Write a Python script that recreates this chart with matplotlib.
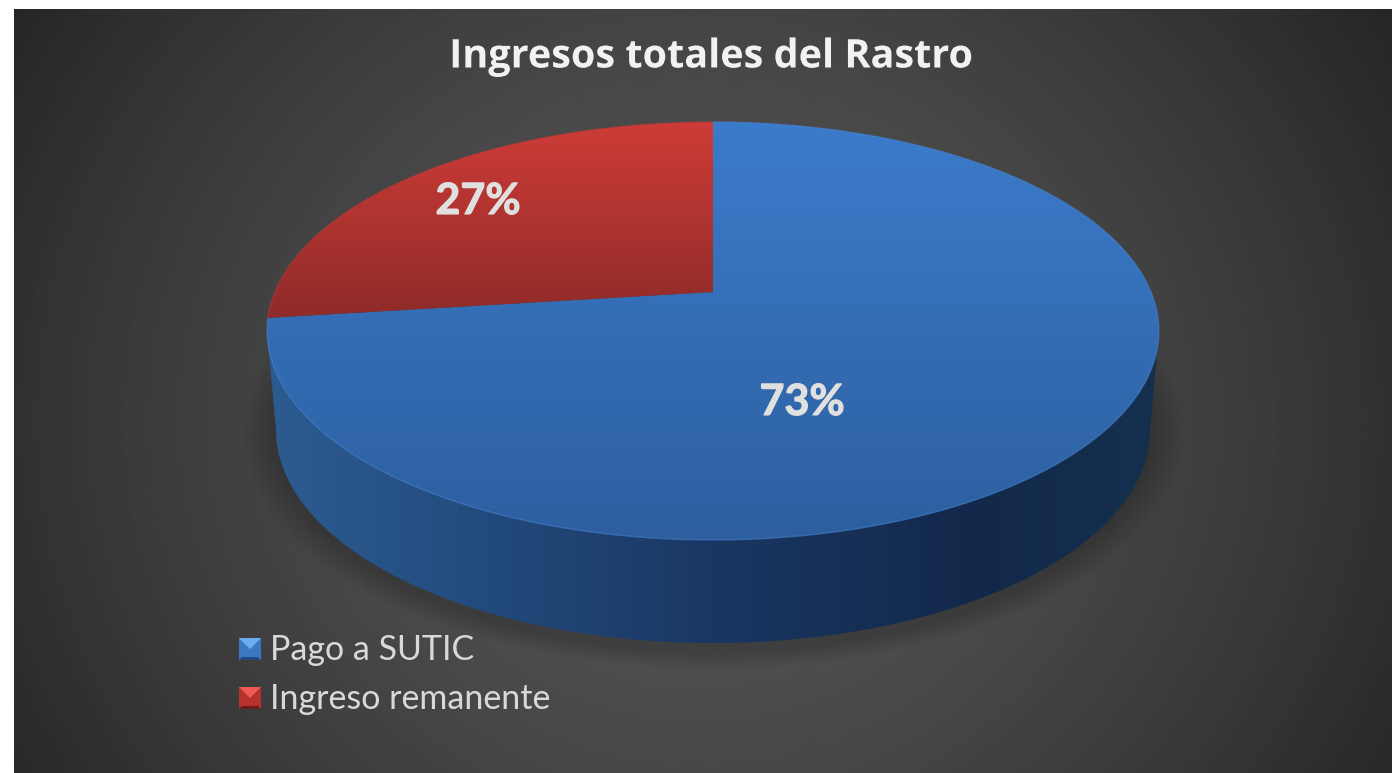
import numpy as np
import matplotlib
matplotlib.use('Agg')
import matplotlib.pyplot as plt
import matplotlib.patheffects as pe
from matplotlib.colors import LinearSegmentedColormap
from matplotlib.patches import Polygon, Rectangle

# chart data
title = 'Ingresos totales del Rastro'
labels = ['Pago a SUTIC', 'Ingreso remanente']
shares = [73, 27]

W, H = 1392, 773

# projection of the pie circle onto the picture (pixels)
cx = 713.0
apex_y = 292.0
proj_a = -147.2
proj_c = 0.1866
proj_d = 438.0
top_cy, top_a = 331.0, 446.0
low_cy, low_a, low_b = 430.0, 437.0, 213.0


def project(theta):
    u, v = np.cos(theta), np.sin(theta)
    den = 1 + proj_c * v
    return cx + proj_d * u / den, (apex_y + proj_a * v) / den


def wedge(start, end):
    t = np.radians(np.linspace(start, end, 300))
    x, y = project(t)
    return np.column_stack([np.r_[cx, x], np.r_[apex_y, y]])


fig = plt.figure(figsize=(W / 100, H / 100), dpi=100, facecolor='white')
ax = fig.add_axes([0, 0, 1, 1])
ax.set_xlim(0, W)
ax.set_ylim(H, 0)
ax.axis('off')

# background, radial grey with soft shadow under the pie
xx, yy = np.meshgrid(np.linspace(14, W, 700), np.linspace(9, H, 400))
r = np.hypot((xx - 700) / 800, (yy - 420) / 750)
bg = 0.34 - 0.185 * np.clip(r, 0, 1.15) ** 1.5
sh = np.hypot((xx - cx) / (low_a + 14), (yy - low_cy - 2) / (low_b + 14))
bg = bg - 0.06 * np.clip((1.05 - sh) / 0.08, 0, 1)
ax.imshow(bg, extent=[14, W, H, 9], cmap='gray', vmin=0, vmax=1, aspect='auto',
          interpolation='bilinear', zorder=0)

# side wall
t = np.radians(np.linspace(180, 360, 300))
wall = np.vstack([[cx - top_a, top_cy],
                  np.column_stack([cx + low_a * np.cos(t), low_cy - low_b * np.sin(t)]),
                  [cx + top_a, top_cy]])
wall_cmap = LinearSegmentedColormap.from_list(
    'wall', [(0, '#2d5c91'), (0.25, '#224a7c'), (0.5, '#1a3763'),
             (0.8, '#12284a'), (1, '#15304f')])
im = ax.imshow(np.linspace(0, 1, 256)[None, :], extent=[266, 1159, 660, 300], cmap=wall_cmap,
               aspect='auto', zorder=2)
im.set_clip_path(Polygon(wall, transform=ax.transData))

# top faces, clockwise from twelve o'clock
face_cmaps = [LinearSegmentedColormap.from_list('blue', ['#3b7bcb', '#2d5f9f']),
              LinearSegmentedColormap.from_list('red', ['#cf3c37', '#8e2b29'])]
face_ranges = [(122, 540), (122, 318)]
edge_colors = ['#4888d8', '#b83a36']
start = 90.0
for share, cmap, (y0, y1), ec in zip(shares, face_cmaps, face_ranges, edge_colors):
    end = start - share * 3.6
    pts = wedge(start, end)
    im = ax.imshow(np.linspace(0, 1, 256)[:, None], extent=[266, 1159, y1, y0], cmap=cmap,
                   aspect='auto', zorder=3)
    im.set_clip_path(Polygon(pts, transform=ax.transData))
    arc = pts[1:]
    ax.plot(arc[:, 0], arc[:, 1], color=ec, lw=1.0, alpha=0.5, zorder=4)
    start = end

ax.set_xlim(0, W)
ax.set_ylim(H, 0)

font = 'Lato'
ax.text(711, 57, title, ha='center', va='center', color='#f2f2f2', fontsize=28.5,
        fontweight='bold', family='Open Sans', zorder=6,
        path_effects=[pe.withSimplePatchShadow(offset=(1, -1), alpha=0.5)])

# percentage labels
label_pos = [(802, 402), (478, 201)]
for share, (px, py) in zip(shares, label_pos):
    ax.text(px, py, '%d%%' % share, ha='center', va='center', color='#e0e0e0',
            fontsize=31, fontweight='bold', family=font, zorder=6,
            path_effects=[pe.withStroke(linewidth=0.8, foreground='#e0e0e0')])

# legend with bevelled swatches
swatches = [('#3a78c4', '#6aaef0', '#1f4a80'), ('#b5322e', '#f05a55', '#6d1c1a')]
for i, (lab, (col, hi, lo)) in enumerate(zip(labels, swatches)):
    y = 638 + 49 * i
    ax.add_patch(Rectangle((239, y), 22, 22, fc=col, ec='none', zorder=5))
    ax.add_patch(Polygon([[239, y], [261, y], [250, y + 11]], fc=hi, ec='none', zorder=5))
    ax.add_patch(Polygon([[239, y + 22], [261, y + 22], [258, y + 19], [242, y + 19]],
                         fc=lo, ec='none', zorder=5))
    ax.text(270, y + 12, lab, ha='left', va='center', color='#d9d9d9', fontsize=24.5,
            family=font, zorder=6)

fig.savefig('out.png', dpi=100, facecolor='white')
